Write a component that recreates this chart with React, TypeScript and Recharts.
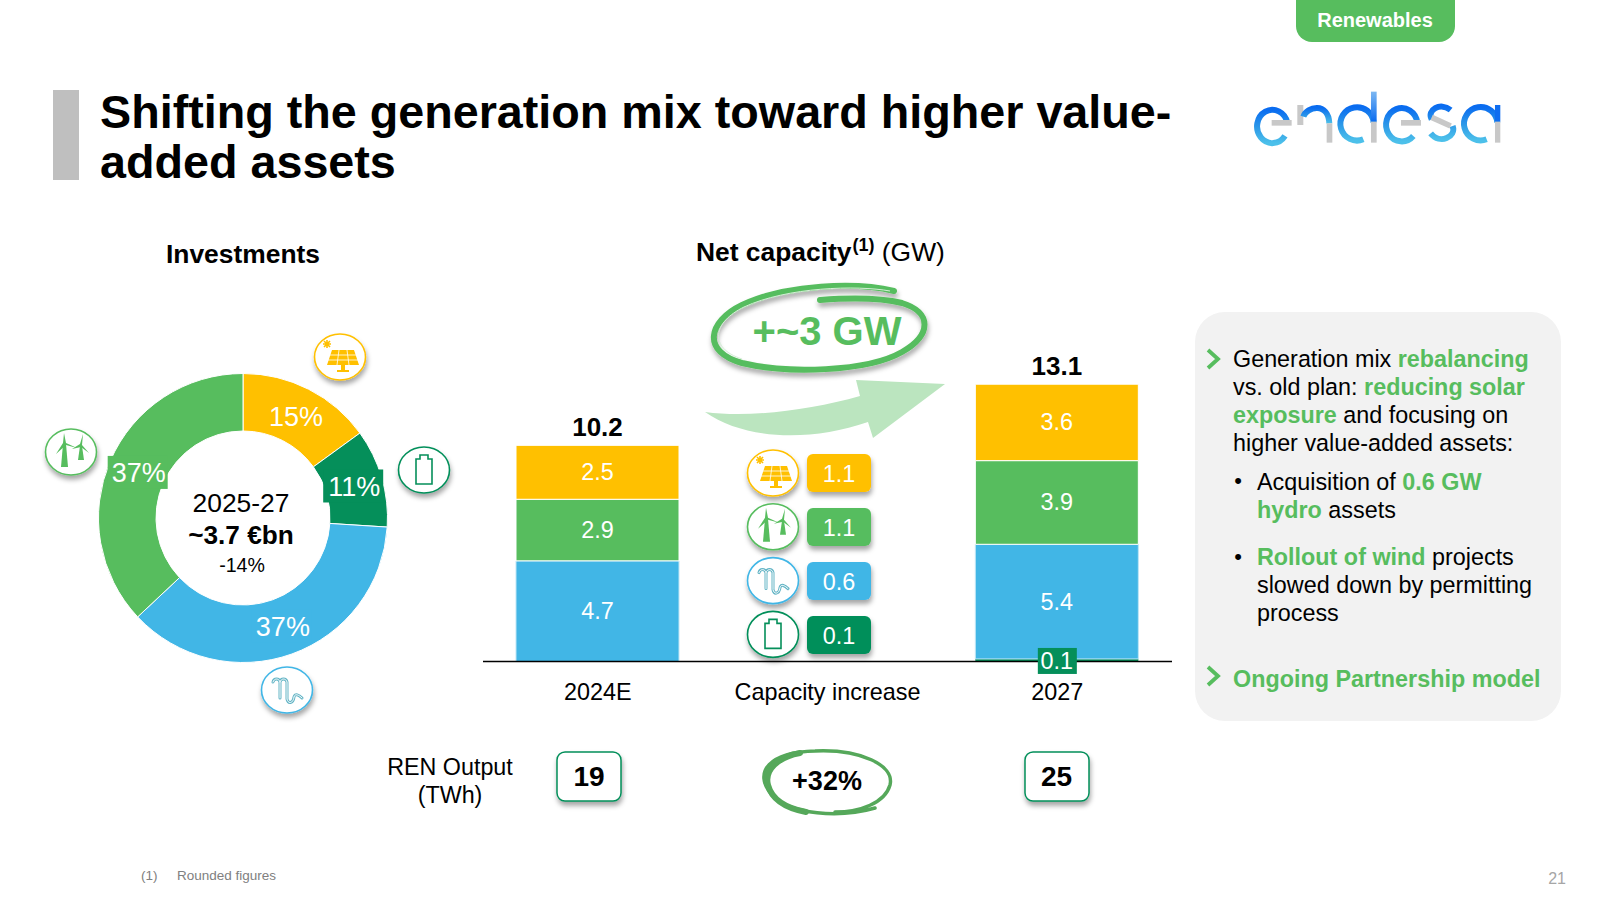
import React from "react";
import { BarChart, Bar, XAxis, YAxis, LabelList, PieChart, Pie, Cell } from "recharts";

const SOLAR = "#FFC000", WIND = "#57BD5E", HYDRO = "#41B6E6", BATT = "#058F5A";
const FONT = '"Liberation Sans", Arial, sans-serif';

// Investments donut
const investNames = ["Solar", "Battery", "Hydro", "Wind"];
const investShares = [15, 11, 37, 37];
const investColors = [SOLAR, BATT, HYDRO, WIND];

// Net capacity stacks
const capCategories = ["2024E", "Capacity increase", "2027"];
const capBattery = [0, 0, 0.12];
const capHydro = [4.74, 0, 5.4];
const capWind = [2.9, 0, 3.94];
const capSolar = [2.54, 0, 3.6];
const capTotals = ["10.2", "", "13.1"];

// Capacity increase chips
const incTypes = ["solar", "wind", "hydro", "battery"];
const incValues = ["1.1", "1.1", "0.6", "0.1"];
const incColors = [SOLAR, WIND, HYDRO, BATT];

const renOutput = ["19", "25"];

const capData = capCategories.map((name, i) => ({
  name,
  battery: capBattery[i],
  hydro: capHydro[i],
  wind: capWind[i],
  solar: capSolar[i],
  total: capTotals[i],
}));
const investData = investNames.map((name, i) => ({ name, value: investShares[i] }));

const Txt = ({ x, y, size, bold, color = "#000", align = "center", children, style }: any) => (
  <div
    style={{
      position: "absolute",
      left: x,
      top: y,
      transform: `translate(${align === "center" ? "-50%" : align === "right" ? "-100%" : "0"},-50%)`,
      fontSize: size,
      fontWeight: bold ? 700 : 400,
      color,
      whiteSpace: "nowrap",
      lineHeight: 1.2,
      ...style,
    }}
  >
    {children}
  </div>
);

const Icon = ({ type, x, y }: any) => {
  const c = type === "solar" ? SOLAR : type === "wind" ? WIND : type === "hydro" ? HYDRO : BATT;
  return (
    <g transform={`translate(${x},${y})`}>
      <ellipse cx={0} cy={0} rx={25.5} ry={23} fill="#fff" stroke={c} strokeWidth={1.6} filter="url(#sh)" />
      {type === "solar" && (
        <g>
          <g stroke={SOLAR} strokeWidth={1.6}>
            <path d="M-13 -17 V-9 M-17 -13 H-9 M-16 -16 L-10 -10 M-16 -10 L-10 -16" />
          </g>
          <path d="M-8 -7 H14 L19 8 H-13 Z" fill={SOLAR} />
          <path d="M-10 -2 H16 M-12 3 H18 M-1 -7 L-3 8 M7 -7 L9 8" stroke="#fff" strokeWidth={0.8} />
          <path d="M1 8 H5 V13 H9 V15 H-3 V13 H1 Z" fill={SOLAR} />
        </g>
      )}
      {type === "wind" && (
        <g fill={WIND}>
          <path d="M-8 -8 L-5 -8 L-3 15 L-10 15 Z" />
          <path d="M-7 -19 L-5 -9 L6 -4 L-5 -7 L-15 2 L-8 -9 Z" />
          <path d="M9 -6 L11 -6 L13 8 L7 8 Z" />
          <path d="M12 -18 L11 -7 L18 1 L10 -5 L1 -3 L9 -8 Z" />
        </g>
      )}
      {type === "hydro" && (
        <g fill="none" strokeLinecap="round">
          <path d="M-14 -8 C-13 -12 -8 -12 -7 -8 L-7 8 M-7 -8 C-6 -12 -1 -12 0 -8 L0 9 C1 14 6 14 7 7 C8 3 12 5 15 8" stroke="#64B5C6" strokeWidth={3} />
          <path d="M-14 -8 C-13 -12 -8 -12 -7 -8 L-7 8 M-7 -8 C-6 -12 -1 -12 0 -8 L0 9 C1 14 6 14 7 7 C8 3 12 5 15 8" stroke="#fff" strokeWidth={1} />
        </g>
      )}
      {type === "battery" && (
        <path d="M-8 -11 H-4 V-15 H4 V-11 H8 V14 H-8 Z" fill="#fff" stroke={BATT} strokeWidth={1.6} />
      )}
    </g>
  );
};

const box = (p: any) => p.viewBox ?? p;

const SegLabel = (p: any) => {
  const { x, y, width, height } = box(p);
  if (!p.value) return null;
  return (
    <text x={x + width / 2} y={y + height / 2 + 8} textAnchor="middle" fontSize={23.4} fill="#fff" fontFamily={FONT}>
      {Number(p.value).toFixed(1)}
    </text>
  );
};

const TotalLabel = (p: any) => {
  const { x, y, width } = box(p);
  if (!p.value) return null;
  return (
    <text x={x + width / 2} y={y - 9} textAnchor="middle" fontSize={26} fontWeight={700} fill="#000" fontFamily={FONT}>
      {p.value}
    </text>
  );
};

const BatteryLabel = (p: any) => {
  const { x, y, width, height } = box(p);
  if (!p.value) return null;
  const cx = x + width / 2;
  const bottom = y + height;
  return (
    <g>
      <rect x={cx - 19} y={bottom - 11} width={39} height={26} fill={BATT} />
      <text x={cx} y={bottom + 10} textAnchor="middle" fontSize={23.4} fill="#fff" fontFamily={FONT}>
        {Number(p.value).toFixed(1)}
      </text>
    </g>
  );
};

const PieLabel = (p: any) => {
  const RAD = Math.PI / 180;
  const r = (p.innerRadius + p.outerRadius) / 2 - 1;
  const x = p.cx + r * Math.cos(-p.midAngle * RAD);
  const y = p.cy + r * Math.sin(-p.midAngle * RAD);
  return (
    <g>
      <rect x={x - 30} y={y - 16.5} width={60} height={33} fill={investColors[p.index]} />
      <text x={x + 1} y={y + 10} textAnchor="middle" fontSize={27} fill="#fff" fontFamily={FONT}>
        {p.value}%
      </text>
    </g>
  );
};

const line = (y: number, x: number, parts: any[]) => (
  <Txt key={y} x={x} y={y} size={23.35} align="left">
    {parts.map((t, i) =>
      Array.isArray(t) ? (
        <b key={i} style={{ color: WIND }}>{t[0]}</b>
      ) : (
        <span key={i}>{t}</span>
      )
    )}
  </Txt>
);

const Chev = ({ x, y }: any) => (
  <path d={`M${x} ${y - 9} L${x + 10} ${y} L${x} ${y + 9}`} fill="none" stroke={WIND} strokeWidth={3.8} />
);

const Logo = () => {
  const L = { fill: "none", stroke: "url(#lg)", strokeWidth: 18 };
  const G = "#C8C8C8";
  return (
    <g transform="translate(1200,0) scale(0.3333)">
      {/* e */}
      <path d="M262 368 A46 50 0 1 0 255 408" {...L} />
      <rect x={215} y={360} width={60} height={17} fill={G} />
      {/* n */}
      <rect x={292} y={315} width={18} height={60} fill={G} />
      <path d="M310 350 C320 320 385 305 388 370" {...L} />
      <rect x={380} y={370} width={17} height={58} fill={G} />
      {/* d */}
      <path d="M521 368 A50 50 0 1 0 490 418" {...L} />
      <rect x={513} y={275} width={17} height={90} fill="url(#st)" />
      <rect x={513} y={365} width={17} height={63} fill={G} />
      {/* e */}
      <path d="M652 368 A47 50 0 1 0 640 408" {...L} />
      <rect x={603} y={360} width={60} height={17} fill={G} />
      {/* s */}
      <path d="M752 330 C720 305 680 330 695 358 M758 378 C770 410 720 435 692 400" {...L} />
      <path d="M695 352 L752 378" stroke={G} strokeWidth={17} />
      {/* a */}
      <path d="M892 368 A50 50 0 1 0 860 418" {...L} />
      <rect x={885} y={315} width={16} height={50} fill="#0F6DF0" />
      <rect x={885} y={365} width={16} height={63} fill={G} />
    </g>
  );
};

export default function App() {
  return (
    <div style={{ position: "fixed", left: 0, top: 0, width: 1600, height: 900, background: "#fff", overflow: "hidden", fontFamily: FONT, color: "#000" }}>
      {/* Decoration layer */}
      <svg width={1600} height={900} style={{ position: "absolute", left: 0, top: 0 }}>
        <defs>
          <filter id="sh" x="-30%" y="-30%" width="170%" height="170%">
            <feDropShadow dx="1" dy="4" stdDeviation="2.5" floodColor="#000" floodOpacity="0.35" />
          </filter>
          <linearGradient id="lg" x1="0" y1="0" x2="0" y2="1">
            <stop offset="0" stopColor="#0A6CF0" />
            <stop offset="0.55" stopColor="#2E9BE8" />
            <stop offset="1" stopColor="#4CC0EA" />
          </linearGradient>
          <linearGradient id="st" x1="0" y1="0" x2="0" y2="1">
            <stop offset="0" stopColor="#7DB8F2" />
            <stop offset="1" stopColor="#0A6CF0" />
          </linearGradient>
        </defs>
        <rect x={53} y={90} width={26} height={90} fill="#BFBFBF" />
        <path d="M1296 0 H1455 V26 A16 16 0 0 1 1439 42 H1312 A16 16 0 0 1 1296 26 Z" fill={WIND} />
        <Logo />
        <rect x={1195} y={312} width={366} height={409} rx={30} fill="#F2F2F2" />
        <Chev x={1208} y={359} />
        <Chev x={1208} y={676} />
        <path d="M705 412 C750 418 810 410 860 396 L856 380 L945 384 L873 438 L868 422 C810 442 745 440 705 412 Z" fill="#BBE5BF" />
        <g transform="translate(-3,0)">
          <g fill="none" stroke={WIND} filter="url(#sh)">
            <path d="M897 291 C860 282 790 284 745 305 C710 322 705 352 745 363 C790 374 870 372 905 352 C935 335 935 312 905 303 C880 297 850 298 823 300" strokeWidth={6} strokeLinecap="round" />
          </g>
          <path d="M893 291 C860 285 790 287 747 307 C716 322 711 348 745 359" fill="none" stroke="#D5EED7" strokeWidth={1} />
        </g>
        <g fill="none" stroke="#55A85A" strokeLinecap="round">
          <path d="M875 808 C840 818 790 815 772 795 C752 772 770 752 815 751 C860 749 895 765 890 785 C885 803 860 812 835 812" strokeWidth={3.5} />
          <path d="M806 812 C785 808 772 800 768 785 C764 770 778 757 800 753" strokeWidth={6} />
        </g>
        <rect x={557} y={752} width={64} height={49} rx={8} fill="#fff" stroke={BATT} strokeWidth={1.5} filter="url(#sh)" />
        <rect x={1025} y={752} width={64} height={49} rx={8} fill="#fff" stroke={BATT} strokeWidth={1.5} filter="url(#sh)" />
      </svg>

      {/* Donut */}
      <div style={{ position: "absolute", left: 92.5, top: 368 }}>
        <PieChart width={300} height={300} margin={{ top: 0, right: 0, bottom: 0, left: 0 }}>
          <Pie
            data={investData}
            dataKey="value"
            nameKey="name"
            cx={150}
            cy={150}
            innerRadius={87}
            outerRadius={144.5}
            startAngle={90}
            endAngle={-270}
            stroke="#fff"
            strokeWidth={1}
            label={PieLabel}
            labelLine={false}
            isAnimationActive={false}
          >
            {investData.map((d, i) => (
              <Cell key={d.name} fill={investColors[i]} />
            ))}
          </Pie>
        </PieChart>
      </div>

      {/* Stacked bars */}
      <div style={{ position: "absolute", left: 483, top: 342.5 }}>
        <BarChart width={689} height={370.5} data={capData} margin={{ top: 0, right: 0, bottom: 0, left: 0 }} barSize={163}>
          <XAxis
            dataKey="name"
            interval={0}
            height={52}
            tickLine={false}
            tick={{ fontSize: 23.4, fill: "#000", fontFamily: FONT }}
            tickMargin={16}
            axisLine={{ stroke: "#000", strokeWidth: 1.5 }}
          />
          <YAxis hide domain={[0, 15]} />
          <Bar dataKey="battery" stackId="a" fill={BATT} stroke="#fff" strokeWidth={0} isAnimationActive={false} />
          <Bar dataKey="hydro" stackId="a" fill={HYDRO} stroke="#BFE6F6" strokeWidth={1} isAnimationActive={false}>
            <LabelList dataKey="hydro" content={SegLabel} />
            <LabelList dataKey="battery" content={BatteryLabel} />
          </Bar>
          <Bar dataKey="wind" stackId="a" fill={WIND} stroke="#fff" strokeWidth={1} isAnimationActive={false}>
            <LabelList dataKey="wind" content={SegLabel} />
          </Bar>
          <Bar dataKey="solar" stackId="a" fill={SOLAR} stroke="#fff" strokeWidth={1} isAnimationActive={false}>
            <LabelList dataKey="solar" content={SegLabel} />
            <LabelList dataKey="total" content={TotalLabel} />
          </Bar>
        </BarChart>
      </div>

      {/* Overlay icons and chips */}
      <svg width={1600} height={900} style={{ position: "absolute", left: 0, top: 0, pointerEvents: "none" }}>
        <Icon type="solar" x={340} y={357} />
        <Icon type="wind" x={71} y={452} />
        <Icon type="battery" x={424} y={470} />
        <Icon type="hydro" x={287} y={690} />
        {incTypes.map((t, i) => (
          <g key={t}>
            <Icon type={t} x={773} y={473 + i * 53.8} />
            <rect x={807} y={454 + i * 54} width={64} height={38} rx={6} fill={incColors[i]} filter="url(#sh)" />
            <text x={839} y={481.5 + i * 54} textAnchor="middle" fontSize={23.4} fill="#fff" fontFamily={FONT}>
              {incValues[i]}
            </text>
          </g>
        ))}
      </svg>

      {/* Text */}
      <Txt x={100} y={112} size={46.7} bold align="left">Shifting the generation mix toward higher value-</Txt>
      <Txt x={100} y={162} size={46.7} bold align="left">added assets</Txt>
      <Txt x={1375} y={20} size={20} bold color="#fff">Renewables</Txt>
      <Txt x={243} y={255} size={26.4} bold>Investments</Txt>
      <Txt x={696} y={253} size={26.4} align="left">
        <b>Net capacity<sup style={{ fontSize: 18, lineHeight: 0, marginLeft: 1 }}>(1)</sup></b> (GW)
      </Txt>
      <Txt x={827} y={331} size={40} bold color={WIND}>+~3 GW</Txt>
      <Txt x={241} y={504} size={26.4}>2025-27</Txt>
      <Txt x={241} y={536} size={26.2} bold>~3.7 €bn</Txt>
      <Txt x={242} y={566} size={19.6}>-14%</Txt>
      <Txt x={450} y={768} size={23.3}>REN Output</Txt>
      <Txt x={450} y={796} size={23.3}>(TWh)</Txt>
      <Txt x={589} y={777} size={28} bold>{renOutput[0]}</Txt>
      <Txt x={1056.5} y={777} size={28} bold>{renOutput[1]}</Txt>
      <Txt x={827} y={781} size={27} bold>+32%</Txt>

      {line(359, 1233, ["Generation mix ", ["rebalancing"]])}
      {line(387, 1233, ["vs. old plan: ", ["reducing solar"]])}
      {line(414.5, 1233, [["exposure"], " and focusing on"])}
      {line(442.5, 1233, ["higher value-added assets:"])}
      {line(481.5, 1257, ["Acquisition of ", ["0.6 GW"]])}
      {line(509.5, 1257, [["hydro"], " assets"])}
      {line(557, 1257, [["Rollout of wind"], " projects"])}
      {line(584.5, 1257, ["slowed down by permitting"])}
      {line(612.5, 1257, ["process"])}
      {line(678.5, 1233, [["Ongoing Partnership model"]])}
      <Txt x={1238} y={481} size={22} align="center">•</Txt>
      <Txt x={1238} y={557} size={22} align="center">•</Txt>

      <Txt x={141} y={876} size={13.5} color="#808080" align="left">(1)</Txt>
      <Txt x={177} y={876} size={13.5} color="#808080" align="left">Rounded figures</Txt>
      <Txt x={1566} y={879} size={16} color="#A6A6A6" align="right">21</Txt>
    </div>
  );
}
